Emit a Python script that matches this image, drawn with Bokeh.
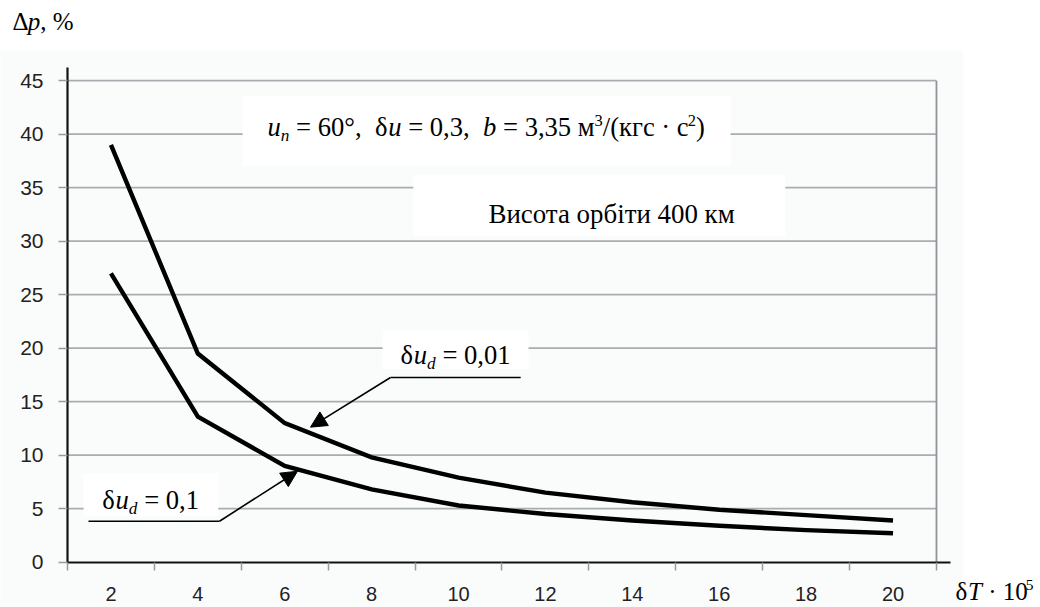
from bokeh.plotting import figure
from bokeh.models import FixedTicker, Arrow, NormalHead, Range1d, Label
from bokeh.embed import file_html
from bokeh.resources import INLINE

# ---- data ----
dT = [2, 4, 6, 8, 10, 12, 14, 16, 18, 20]
dp_du001 = [39.0, 19.5, 13.0, 9.8, 7.9, 6.5, 5.6, 4.9, 4.4, 3.9]
dp_du01 = [27.0, 13.6, 9.0, 6.8, 5.3, 4.5, 3.9, 3.4, 3.0, 2.7]
x_bounds = [1, 3, 5, 7, 9, 11, 13, 15, 17, 19, 21]
y_ticks = [0, 5, 10, 15, 20, 25, 30, 35, 40, 45]

SERIF = "Liberation Serif"
SANS = "Liberation Sans"
PXY = 10.7  # px per y unit (for sub/superscript shifts)
NB = "\u00a0"
BASE_FIX = 0.376  # em: lift labels so their baseline lands where intended

# whole canvas is the frame; axes are fixed inside it
p = figure(width=1040, height=607, output_backend="svg", toolbar_location=None,
           x_range=Range1d(-0.542, 23.394), y_range=Range1d(-4.234, 52.495),
           min_border_left=0, min_border_right=0, min_border_top=0,
           min_border_bottom=0)
p.xgrid.visible = False
p.ygrid.visible = False
p.outline_line_color = None
p.background_fill_color = "white"
p.border_fill_color = "white"

# faint chart-area tint
p.quad(left=[-0.6], right=[21.62], bottom=[-4.5], top=[47.82],
       fill_color="#fafcfc", line_color=None)

# grid lines and right border
gy = y_ticks[1:]
p.segment(x0=[x_bounds[0]] * len(gy), x1=[x_bounds[-1]] * len(gy), y0=gy, y1=gy,
          line_color="#a7adb0", line_width=1.8)
p.segment(x0=[x_bounds[-1]], x1=[x_bounds[-1]], y0=[y_ticks[0]], y1=[y_ticks[-1]],
          line_color="#8f9598", line_width=1.8)

# white boxes behind the texts
p.quad(left=[5.03, 8.96, 8.25, 1.37], right=[16.26, 17.52, 11.61, 4.47],
       bottom=[37.07, 30.53, 18.06, 4.36], top=[43.6, 36.14, 21.65, 8.29],
       fill_color="white", line_color=None)

# curves
p.line(dT, dp_du001, line_color="black", line_width=4.4, line_join="miter")
p.line(dT, dp_du01, line_color="black", line_width=4.4, line_join="miter")

# axes
xa = p.xaxis[0]
xa.fixed_location = 0
xa.bounds = (1, 21.32)
xa.ticker = FixedTicker(ticks=dT, minor_ticks=x_bounds)
xa.axis_line_color = "#111111"
xa.axis_line_width = 2.2
xa.major_tick_out = 0
xa.major_tick_in = 0
xa.minor_tick_out = 8
xa.minor_tick_in = 0
xa.minor_tick_line_color = "#9a9a9a"
xa.minor_tick_line_width = 1.5
xa.major_label_text_font = SANS
xa.major_label_text_font_size = "20px"
xa.major_label_text_color = "#222222"
xa.major_label_standoff = 17

ya = p.yaxis[0]
ya.fixed_location = 1
ya.bounds = (0, 46.22)
ya.ticker = FixedTicker(ticks=y_ticks, minor_ticks=[])
ya.axis_line_color = "#111111"
ya.axis_line_width = 2.2
ya.major_tick_out = 9
ya.major_tick_in = 0
ya.major_tick_line_color = "#9a9a9a"
ya.major_tick_line_width = 1.5
ya.minor_tick_out = 0
ya.minor_tick_in = 0
ya.major_label_text_font = SANS
ya.major_label_text_font_size = "21px"
ya.major_label_text_color = "#222222"
ya.major_label_standoff = 15

# leader lines and arrows
p.segment(x0=[8.434, 1.483], x1=[11.43, 4.498], y0=[17.26, 3.83], y1=[17.26, 3.83],
          line_color="black", line_width=1.6)
p.add_layout(Arrow(end=NormalHead(size=16, fill_color="black", line_color="black"),
                   x_start=8.434, y_start=17.26, x_end=6.593, y_end=12.62,
                   line_color="black", line_width=1.6))
p.add_layout(Arrow(end=NormalHead(size=16, fill_color="black", line_color="black"),
                   x_start=4.498, y_start=3.83, x_end=6.293, y_end=8.50,
                   line_color="black", line_width=1.6))

# text pieces
W = {' ': .25, NB: .25, '=': .564, '°': .4, ',': .25, 'δ': .5, 'м': .63,
     '/': .278, '(': .333, ')': .333, 'к': .5,
     'г': .44, 'с': .444, '·': .25, 'Δ': .612, '%': .833, 'T': .556}


def put(x, y, pieces, size=26.6):
    off = 0.0
    for txt, italic, scale, dy in pieces:
        fs = size * scale
        txt = txt.replace(" ", NB)
        p.add_layout(Label(x=x, y=y + (BASE_FIX * fs - dy) / PXY, x_offset=off, text=txt,
                           text_font=SERIF,
                           text_font_style="italic" if italic else "normal",
                           text_font_size=f"{fs:.1f}px", text_baseline="alphabetic",
                           text_align="left", text_color="black"))
        off += sum(W.get(c, .5) for c in txt) * fs


put(5.603, 39.72, [("u", True, 1, 0), ("n", True, .65, 5), (" = 60°,  δ", False, 1, 0),
                   ("u", True, 1, 0), (" = 0,3,  ", False, 1, 0), ("b", True, 1, 0),
                   (" = 3,35 м", False, 1, 0), ("3", False, .62, -10),
                   ("/(кгс · с", False, 1, 0), ("2", False, .62, -10),
                   (")", False, 1, 0)])
put(10.69, 31.63, [("Висота орбіти 400 км", False, 1, 0)], size=26.9)
put(8.664, 18.45, [("δ", False, 1, 0), ("u", True, 1, 0), ("d", True, .65, 5),
                   (" = 0,01", False, 1, 0)])
put(1.80, 4.90, [("δ", False, 1, 0), ("u", True, 1, 0), ("d", True, .65, 5),
                 (" = 0,1", False, 1, 0)])
put(-0.266, 49.69, [("Δ", False, 1, 0), ("p", True, 1, 0), (", %", False, 1, 0)], size=25)
put(21.44, -3.65, [("δ", False, 1, 0), ("T", True, 1, 0), (" · 10", False, 1, 0),
                   ("5", False, .62, -10)], size=25)

open("out.html", "w").write(file_html(p, INLINE))
